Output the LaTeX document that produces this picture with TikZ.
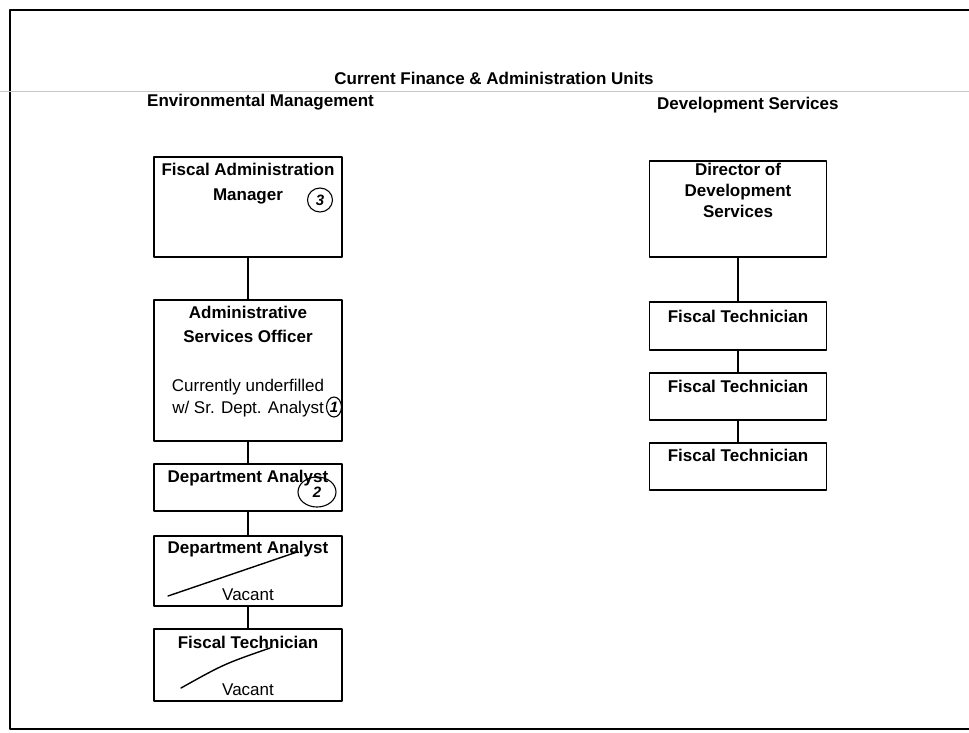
\documentclass[tikz,border=0pt]{standalone}
\usepackage{fontspec}
\setmainfont{Liberation Sans}
\usetikzlibrary{shapes.geometric}

\tikzset{
  unit/.style={draw, line width=1.3pt, inner sep=0pt},
  lbl/.style={anchor=north, align=center, inner sep=0pt, yshift=-7pt,
    font=\bfseries\fontsize{17}{21}\selectfont},
  sub/.style={anchor=south, align=center, inner sep=0pt, yshift=6pt,
    font=\fontsize{17}{22}\selectfont},
  head/.style={inner sep=0pt, font=\bfseries\fontsize{17}{21}\selectfont},
  hand/.style={ellipse, draw, line width=1.1pt, inner sep=0pt,
    font=\bfseries\itshape\fontsize{15}{15}\selectfont},
  link/.style={line width=1.3pt},
  strike/.style={line width=1.4pt, line cap=round},
}

\begin{document}
\begin{tikzpicture}[x=1pt,y=-1pt,line join=round]
\useasboundingbox (0,0) rectangle (969,732);
% page frame
\draw[line width=1.5pt] (969,10) -- (10,10) -- (10,729) -- (969,729);
\draw[black!22,line width=0.6pt] (0,91) -- (969,91);

\node[head] (title) at (494,78) {Current Finance \& Administration Units};
\node[head,anchor=west] (envm) at (147,102) {Environmental Management};
\node[head,anchor=west] (devs) at (657,105) {Development Services};

% Environmental Management
\node[unit,minimum width=188pt,minimum height=100pt,
  label={[lbl,font=\bfseries\fontsize{17}{25}\selectfont]north:{Fiscal Administration\\Manager}}] (fam) at (248,207) {};
\node[unit,minimum width=188pt,minimum height=141pt,
  label={[lbl,font=\bfseries\fontsize{17}{24}\selectfont]north:{Administrative\\Services Officer}},
  label={[sub,yshift=18pt]south:{Currently underfilled\\w/ Sr. Dept. Analyst}}] (aso) at (248,370.5) {};
\node[unit,minimum width=188pt,minimum height=47pt,
  label={[lbl]north:{Department Analyst}}] (da1) at (248,487.5) {};
\node[unit,minimum width=188pt,minimum height=70pt,
  label={[lbl,yshift=1pt]north:{Department Analyst}},
  label={[sub]south:{Vacant}}] (da2) at (248,571) {};
\node[unit,minimum width=188pt,minimum height=72pt,
  label={[lbl,yshift=-1pt]north:{Fiscal Technician}},
  label={[sub]south:{Vacant}}] (ft1) at (248,665) {};

\draw[link] (fam) -- (aso);
\draw[link] (aso) -- (da1);
\draw[link] (da1) -- (da2);
\draw[link] (da2) -- (ft1);

% handwritten marks
\node[hand,minimum width=25pt,minimum height=24pt] (mk3) at (320,200) {3};
\node[hand,minimum width=15pt,minimum height=20pt] (mk1) at (334,407) {1};
\node[hand,minimum width=38pt,minimum height=30pt] (mk2) at (317,492) {2};
\draw[strike] (168,596) -- (297,552);
\draw[strike] (181,688) .. controls (224,664) .. (270,648);

% Development Services
\node[unit,minimum width=177pt,minimum height=96pt,
  label={[lbl,yshift=4pt]north:{Director of\\Development\\Services}}] (dir) at (738,209) {};
\node[unit,minimum width=177pt,minimum height=48pt,
  label={[lbl,yshift=-2pt]north:{Fiscal Technician}}] (ft2) at (738,326) {};
\node[unit,minimum width=177pt,minimum height=47pt,
  label={[lbl,yshift=-1pt]north:{Fiscal Technician}}] (ft3) at (738,396.5) {};
\node[unit,minimum width=177pt,minimum height=47pt,
  label={[lbl]north:{Fiscal Technician}}] (ft4) at (738,466.5) {};

\draw[link] (dir) -- (ft2);
\draw[link] (ft2) -- (ft3);
\draw[link] (ft3) -- (ft4);
\end{tikzpicture}
\end{document}
